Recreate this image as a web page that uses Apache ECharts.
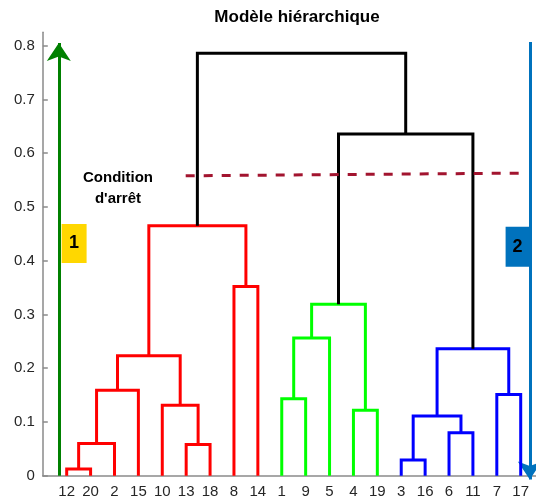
<!DOCTYPE html>
<html>
<head>
<meta charset="utf-8">
<script src="https://cdn.jsdelivr.net/npm/echarts@6/dist/echarts.min.js"></script>
<style>html,body{margin:0;padding:0;background:#fff}#c{width:536px;height:500px}</style>
</head>
<body>
<div id="c"></div>
<script>
// Leaf order along the x axis
const leafLabels = ['12','20','2','15','10','13','18','8','14','1','9','5','4','19','3','16','6','11','7','17'];
// Linkage: [childA, childB, height, group]  (children: leaf label or 'M<index>')
const mergeA = ['12','M0','M1','13','10','M2','8','M5','1','M8','4','M9','3','6','M12','7','M14','M11','M7'];
const mergeB = ['20','2','15','18','M3','M4','14','M6','9','5','19','M10','16','11','M13','17','M15','M16','M17'];
const mergeHeight = [0.0125,0.060,0.159,0.058,0.131,0.223,0.352,0.465,0.143,0.256,0.122,0.319,0.029,0.080,0.111,0.151,0.236,0.636,0.786];
const mergeGroup = ['r','r','r','r','r','r','r','r','g','g','g','g','b','b','b','b','b','k','k'];
const groupColors = {r:'#ff0000', g:'#00ff00', b:'#0000ff', k:'#000000'};
// Cut line ("Condition d'arrêt")
const cutX = [5.98, 20.08];
const cutY = [0.558, 0.563];
// Arrows
const arrow1 = [[0.67, 0.0], [0.67, 0.805]];
const arrow2 = [[20.38, 0.807], [20.38, -0.007]];
// Boxes
const boxLabels = ['1','2'];
const boxPos = [[1.31, 0.432], [19.87, 0.426]];
const yTicks = [0,0.1,0.2,0.3,0.4,0.5,0.6,0.7,0.8];

const pos = {};
leafLabels.forEach((l,i)=>{ pos[l] = {x:i+1, h:0}; });
const series = [];
mergeA.forEach((a,i)=>{
  const b = mergeB[i];
  const pa = pos[a], pb = pos[b], h = mergeHeight[i];
  pos['M'+i] = {x:(pa.x+pb.x)/2, h:h};
  series.push({
    type:'line', silent:true, symbol:'none', animation:false,
    lineStyle:{color:groupColors[mergeGroup[i]], width:3, join:'miter'},
    data:[[pa.x,pa.h],[pa.x,h],[pb.x,h],[pb.x,pb.h]]
  });
});
series.push({
  type:'line', symbol:'none', animation:false, silent:true,
  lineStyle:{color:'#A2142F', width:3, type:[9,9]},
  data:[[cutX[0],cutY[0]],[cutX[1],cutY[1]]]
});
series.push({
  type:'lines', coordinateSystem:'cartesian2d', animation:false, silent:true, clip:false,
  symbol:['none','arrow'], symbolSize:18,
  data:[{coords:arrow1, lineStyle:{color:'#008000', width:3, opacity:1}},
        {coords:arrow2, lineStyle:{color:'#0072BD', width:3, opacity:1}}],
  lineStyle:{opacity:1}
});
series.push({
  type:'scatter', animation:false, silent:true, symbol:'rect',
  itemStyle:{opacity:1},
  data:[
    {value:boxPos[0], symbolSize:[25,39], itemStyle:{color:'#FFD700', opacity:1}, label:{show:true, formatter:boxLabels[0]}},
    {value:boxPos[1], symbolSize:[24,40], itemStyle:{color:'#0072BD', opacity:1}, label:{show:true, formatter:boxLabels[1]}}
  ],
  label:{position:'inside', color:'#000', fontWeight:'bold', fontSize:18, fontFamily:'Liberation Sans'}
});

const chart = echarts.init(document.getElementById('c'), null, {renderer:'canvas'});
chart.setOption({
  animation:false,
  grid:{left:42.8, right:0, top:32.3, bottom:24.3, containLabel:false},
  xAxis:{type:'value', min:0, max:20.64,
    axisLine:{lineStyle:{color:'#8a8a8a', width:1.5}},
    axisTick:{show:false}, splitLine:{show:false},
    axisLabel:{customValues:leafLabels.map((l,i)=>i+1), formatter:(v)=>leafLabels[Math.round(v)-1]||'',
      color:'#262626', fontSize:15, fontFamily:'Liberation Sans', margin:9}
  },
  yAxis:{type:'value', min:0, max:0.825,
    axisLine:{show:true, lineStyle:{color:'#8a8a8a', width:1.5}},
    axisTick:{show:true, inside:true, length:5, customValues:yTicks, lineStyle:{color:'#8a8a8a', width:1.5}},
    splitLine:{show:false},
    axisLabel:{customValues:yTicks, formatter:(v)=>String(Math.round(v*10)/10),
      color:'#262626', fontSize:15, fontFamily:'Liberation Sans', margin:8}
  },
  graphic:[
    {type:'text', x:297, y:9, style:{text:'Modèle hiérarchique', align:'center', fill:'#000',
      font:'bold 17px "Liberation Sans"'}},
    {type:'text', x:118, y:167, style:{text:"Condition\nd'arrêt", align:'center', fill:'#000',
      font:'bold 15px "Liberation Sans"', lineHeight:21}}
  ],
  series:series
});
</script>
</body>
</html>
